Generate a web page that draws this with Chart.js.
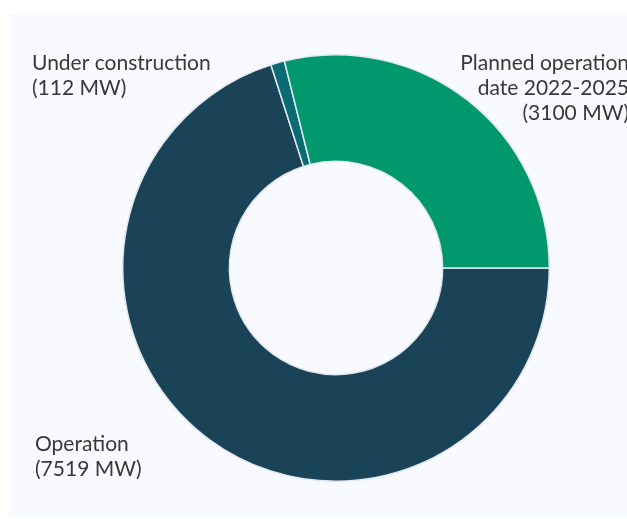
<!DOCTYPE html>
<html lang="en">
<head>
    <meta charset="UTF-8">
    <title>Capacity by status</title>
    <script src="https://cdn.jsdelivr.net/npm/chart.js"></script>
    <style>
        html, body {
            margin: 0;
            padding: 0;
            background: #ffffff;
        }
        .wrap {
            width: 627px;
            height: 519px;
            position: relative;
        }
    </style>
</head>
<body>
    <div class="wrap">
        <canvas id="statusChart" width="627" height="519"></canvas>
    </div>

    <script>
        // status of the capacity, in MW
        const statusLabels = ['Operation', 'Under construction', 'Planned operation date 2022-2025'];
        const capacityMW = [7519, 112, 3100];
        const sliceColors = ['#1a4358', '#0a6b73', '#00986c'];

        // text lines written next to each slice
        const labelLines = [
            ['Operation', '(7519 MW)'],
            ['Under construction', '(112 MW)'],
            ['Planned operation', 'date 2022-2025', '(3100 MW)']
        ];

        // light panel behind the chart
        const panelBg = {
            id: 'panelBg',
            beforeDraw(chart) {
                const ctx = chart.ctx;
                ctx.save();
                ctx.fillStyle = '#f8faff';
                ctx.fillRect(9, 14, chart.width - 9, chart.height - 15);
                ctx.restore();
            }
        };

        // outside labels, placed the way the original has them
        const sliceText = {
            id: 'sliceText',
            afterDraw(chart) {
                const ctx = chart.ctx;
                ctx.save();
                ctx.font = '21px Lato, "Open Sans", sans-serif';
                ctx.fillStyle = '#383838';
                ctx.textBaseline = 'alphabetic';
                const spots = [
                    { x: 35, y: 451, align: 'left' },
                    { x: 32, y: 70, align: 'left' },
                    { x: 629, y: 70, align: 'right' }
                ];
                labelLines.forEach((lines, i) => {
                    ctx.textAlign = spots[i].align;
                    lines.forEach((t, j) => {
                        ctx.fillText(t, spots[i].x, spots[i].y + j * 25);
                    });
                });
                ctx.restore();
            }
        };

        new Chart(document.getElementById('statusChart'), {
            type: 'doughnut',
            data: {
                labels: statusLabels,
                datasets: [{
                    data: capacityMW,
                    backgroundColor: sliceColors,
                    borderColor: '#dfe7ef',
                    borderWidth: 1.5
                }]
            },
            options: {
                responsive: false,
                animation: false,
                rotation: 90,
                cutout: '50%',
                layout: {
                    padding: { left: 122, right: 77, top: 54, bottom: 37 }
                },
                plugins: {
                    legend: { display: false },
                    tooltip: { enabled: false }
                }
            },
            plugins: [panelBg, sliceText]
        });
    </script>
</body>
</html>
